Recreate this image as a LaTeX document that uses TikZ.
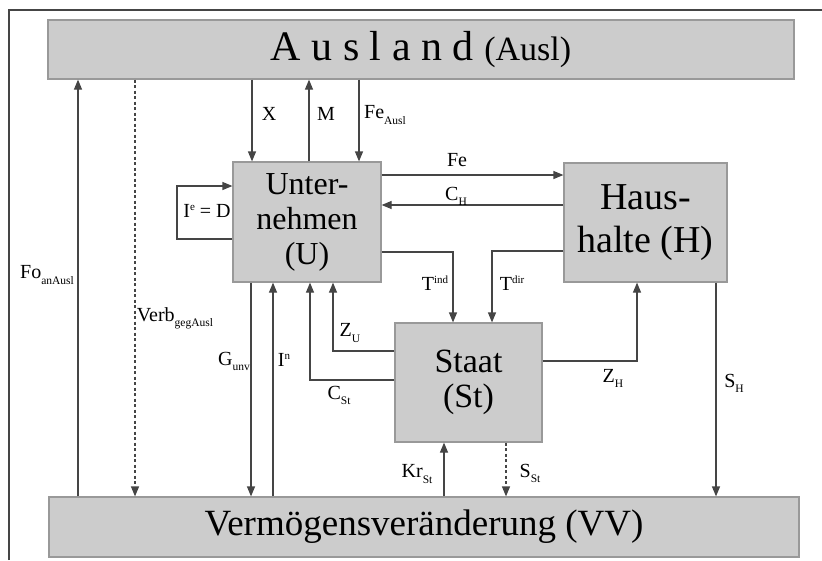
\documentclass[tikz,border=0pt]{standalone}
\usepackage{fontspec}
\setmainfont{Liberation Serif}
\usepackage{tikz}
\usetikzlibrary{arrows.meta}
\definecolor{boxgray}{HTML}{CCCCCC}
\definecolor{rimgray}{HTML}{999999}
\definecolor{linegray}{HTML}{454545}
\tikzstyle{sector}=[rectangle,fill=boxgray,draw=rimgray,line width=1.2pt,inner sep=0pt,align=center]
\tikzstyle{flow}=[draw=linegray,line width=1.2pt,-{Triangle[length=10pt,width=8pt]}]
\tikzstyle{credit}=[dash pattern=on 3pt off 2.5pt]
\tikzstyle{flowlabel}=[inner sep=0pt,font=\fontsize{20}{22}\selectfont]
\newcommand{\lsub}[1]{\raisebox{-0.55ex}{\fontsize{11.5}{12}\selectfont #1}}
\newcommand{\lsup}[1]{\raisebox{0.75ex}{\fontsize{11}{11}\selectfont #1}}

\begin{document}
\begin{tikzpicture}[x=1pt,y=-1pt]
    \useasboundingbox (0,0) rectangle (822,560);
    \draw[linegray,line width=1.5pt] (9,560) -- (9,10) -- (822,10);
    % sectors
    \node[sector,minimum width=746pt,minimum height=59pt] (Ausl) at (421,49.5)
        {\fontsize{42}{44}\selectfont A u s l a n d \fontsize{34}{36}\selectfont(Ausl)};
    \node[sector,minimum width=148pt,minimum height=120pt,font=\fontsize{32}{35}\selectfont] (U) at (307,222)
        {Unter-\\nehmen\\(U)};
    \node[sector,minimum width=163pt,minimum height=119pt,font=\fontsize{38}{43}\selectfont] (H) at (645.5,222.5)
        {Haus-\\halte (H)};
    \node[sector,minimum width=147pt,minimum height=119pt,font=\fontsize{34}{35}\selectfont] (St) at (468.5,382.5)
        {Staat\\(St)};
    \node[sector,minimum width=750pt,minimum height=60pt,font=\fontsize{37}{38}\selectfont] (VV) at (424,527)
        {Verm\"ogensver\"anderung (VV)};
    % flows with Ausland
    \draw[flow] (VV.north -| 78,0) -- (Ausl.south -| 78,0);
    \draw[flow,credit] (Ausl.south -| 135,0) -- (VV.north -| 135,0);
    \draw[flow] (Ausl.south -| 252,0) -- (U.north -| 252,0);
    \draw[flow] (U.north -| 309,0) -- (Ausl.south -| 309,0);
    \draw[flow] (Ausl.south -| 359,0) -- (U.north -| 359,0);
    % flows between U, H and St
    \draw[flow] (U.east |- 0,175) -- (H.west |- 0,175);
    \draw[flow] (H.west |- 0,205) -- (U.east |- 0,205);
    \draw[flow] (U.east |- 0,252) -| (St.north -| 453,0);
    \draw[flow] (H.west |- 0,251) -| (St.north -| 492,0);
    \draw[flow] (St.east |- 0,361) -| (H.south -| 637,0);
    \draw[flow] (St.west |- 0,351) -| (U.south -| 333,0);
    \draw[flow] (St.west |- 0,380) -| (U.south -| 310,0);
    \draw[flow] (U.west |- 0,239) -- (177,239) -- (177,186) -- (U.west |- 0,186);
    % flows with VV
    \draw[flow] (H.south -| 716,0) -- (VV.north -| 716,0);
    \draw[flow] (U.south -| 251,0) -- (VV.north -| 251,0);
    \draw[flow] (VV.north -| 273,0) -- (U.south -| 273,0);
    \draw[flow] (VV.north -| 444,0) -- (St.south -| 444,0);
    \draw[flow,credit] (St.south -| 506,0) -- (VV.north -| 506,0);
    % labels
    \node[flowlabel] (lX) at (269,114) {X};
    \node[flowlabel] (lM) at (326,114) {M};
    \node[flowlabel] (lFeA) at (385,115) {Fe\lsub{Ausl}};
    \node[flowlabel] (lFe) at (457,160) {Fe};
    \node[flowlabel] (lCH) at (456,196) {C\lsub{H}};
    \node[flowlabel] (lIe) at (207,211) {I\lsup{e} = D};
    \node[flowlabel] (lTind) at (435,283) {T\lsup{ind}};
    \node[flowlabel] (lTdir) at (512,283) {T\lsup{dir}};
    \node[flowlabel] (lZU) at (350,333) {Z\lsub{U}};
    \node[flowlabel] (lCSt) at (339,395) {C\lsub{St}};
    \node[flowlabel] (lGunv) at (234,361) {G\lsub{unv}};
    \node[flowlabel] (lIn) at (284,360) {I\lsup{n}};
    \node[flowlabel] (lVerb) at (175,318) {Verb\lsub{gegAusl}};
    \node[flowlabel] (lFo) at (47,275) {Fo\lsub{anAusl}};
    \node[flowlabel] (lZH) at (613,378) {Z\lsub{H}};
    \node[flowlabel] (lSH) at (734,383) {S\lsub{H}};
    \node[flowlabel] (lKr) at (417,474) {Kr\lsub{St}};
    \node[flowlabel] (lSSt) at (530,473) {S\lsub{St}};
\end{tikzpicture}
\end{document}
